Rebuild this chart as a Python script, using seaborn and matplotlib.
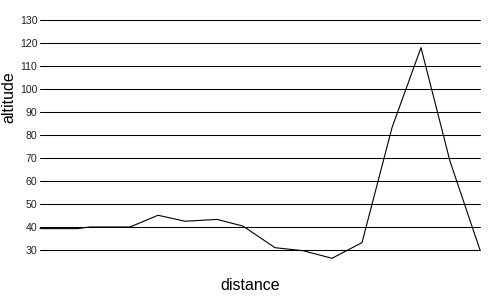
import matplotlib
matplotlib.use("Agg")
import matplotlib.pyplot as plt
import seaborn as sns
import pandas as pd

distance = [0, 37, 50, 90, 118, 145, 177, 203, 235, 263, 292, 322, 352, 381, 410, 440]
altitude = [39.3, 39.3, 40.0, 40.0, 45.1, 42.5, 43.3, 40.4, 31.0, 29.7, 26.4, 33.2, 83.2, 118.0, 68.6, 30.0]
y_ticks = [30, 40, 50, 60, 70, 80, 90, 100, 110, 120, 130]

df = pd.DataFrame({"distance": distance, "altitude": altitude})

sns.set_style("white")
plt.rcParams["font.family"] = ["Liberation Sans", "DejaVu Sans"]

fig = plt.figure(figsize=(5, 3), dpi=100)
ax = fig.add_axes([40 / 500, 50 / 300, 440 / 500, 230 / 300])

for t in y_ticks:
    ax.axhline(t, color="black", linewidth=0.75, zorder=1, clip_on=False)

sns.lineplot(data=df, x="distance", y="altitude", ax=ax, color="black",
             linewidth=0.8, zorder=2, clip_on=False)

ax.set_xlim(0, 440)
ax.set_ylim(30, 130)
ax.set_yticks(y_ticks)
ax.set_yticklabels([str(t) for t in y_ticks])
ax.set_xticks([])
ax.tick_params(axis="y", length=0, pad=2, labelsize=7.6, labelcolor="#222222")
for s in ax.spines.values():
    s.set_visible(False)

ax.set_ylabel("altitude", fontsize=11.5, color="black", va="center", ha="center")
ax.yaxis.set_label_coords((9 - 40) / 440, (250 - 97) / 230)
ax.set_xlabel("distance", fontsize=11.5, color="black", va="center", ha="center")
ax.xaxis.set_label_coords((250 - 40) / 440, (250 - 285) / 230)

fig.savefig("out.png", dpi=100)
